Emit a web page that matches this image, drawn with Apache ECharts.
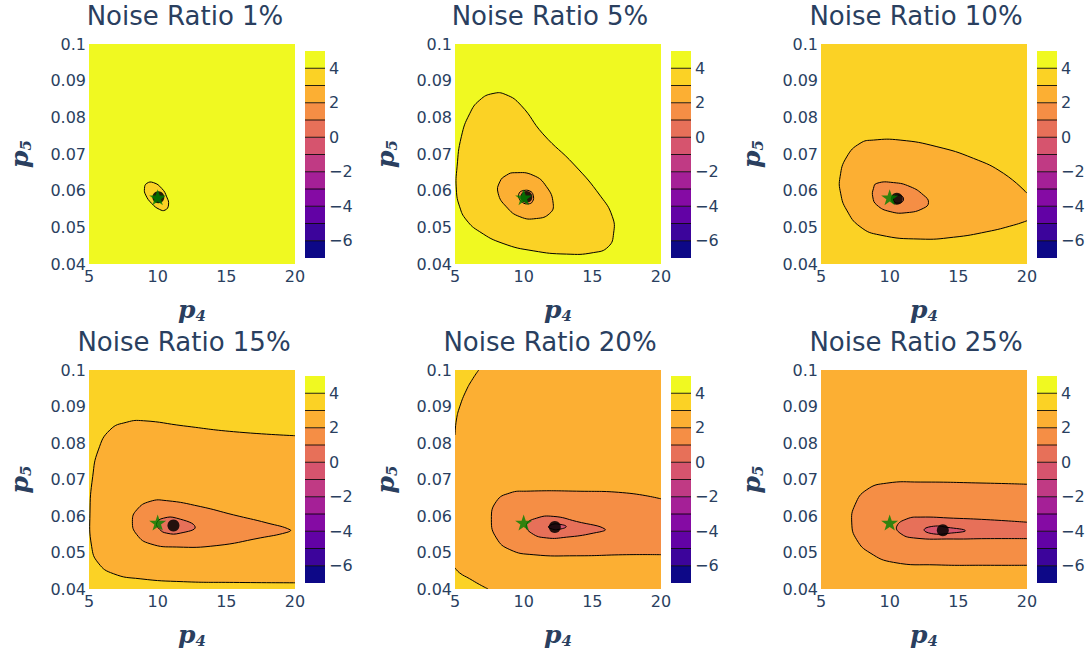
<!DOCTYPE html>
<html><head><meta charset="utf-8">
<script src="https://cdn.jsdelivr.net/npm/echarts@6/dist/echarts.min.js"></script>
<style>html,body{margin:0;padding:0;background:#fff}#chart{width:1086px;height:652px}</style>
</head><body><div id="chart"></div>
<script>
// ---------------- data ----------------
const panelTitles = ['Noise Ratio 1%', 'Noise Ratio 5%', 'Noise Ratio 10%', 'Noise Ratio 15%', 'Noise Ratio 20%', 'Noise Ratio 25%'];
const xTicks = [5, 10, 15, 20];
const yTicks = [0.04, 0.05, 0.06, 0.07, 0.08, 0.09, 0.1];
const colorbarLevels = [-7, -6, -5, -4, -3, -2, -1, 0, 1, 2, 3, 4, 5];
const colorbarTicks = [-6, -4, -2, 0, 2, 4];
const bandColors = ['#0d0887', '#3c049b', '#6202a5', '#850ba4', '#a52097', '#c03a84',
                    '#d6546e', '#e77059', '#f58e45', '#fcaf33', '#fbd225', '#f0f921'];
// upper contour level of the band that fills the rest of each panel
const backgroundTop = [5, 5, 4, 4, 3, 3];
const truePoint = [10, 0.0582];
const estimates = [[10.05, 0.0582], [10.2, 0.0583], [10.52, 0.0578], [11.15, 0.0574], [12.27, 0.0570], [13.87, 0.0561]];

const contours1 = [
  {level: 4, closed: true, pts: [[9.21,0.0620],[9.69,0.0622],[10.30,0.0606],[10.66,0.0583],[10.79,0.0561],[10.54,0.0547],[10.13,0.0549],[9.57,0.0565],[9.13,0.0588],[9.04,0.0606]]}
];
const contours2 = [
  {level: 4, closed: true, pts: [[5.10,0.0602],[5.15,0.0665],[5.46,0.0747],[6.07,0.0810],[6.80,0.0847],[7.77,0.0865],[8.70,0.0862],[9.80,0.0833],[11.40,0.0755],[13.70,0.0670],[15.60,0.0585],[16.45,0.0530],[16.55,0.0484],[16.16,0.0447],[15.07,0.0431],[13.12,0.0427],[10.69,0.0436],[8.50,0.0456],[6.80,0.0488],[5.83,0.0520],[5.34,0.0556]]},
  {level: 3, closed: true, pts: [[9.35,0.0649],[10.69,0.0642],[11.66,0.0611],[12.15,0.0565],[11.90,0.0538],[10.93,0.0524],[9.72,0.0529],[8.74,0.0556],[8.14,0.0593],[8.26,0.0624],[8.74,0.0642]]},
  {level: 2, closed: true, pts: [[9.67,0.0593],[9.96,0.0600],[10.45,0.0599],[10.69,0.0588],[10.64,0.0570],[10.32,0.0564],[9.91,0.0568],[9.67,0.0579]]}
];
const contours3 = [
  {level: 3, closed: false, pts: [[20,0.0593],[18.30,0.0647],[16.11,0.0688],[13.44,0.0720],[10.76,0.0738],[8.82,0.0738],[7.84,0.0729],[6.87,0.0692],[6.39,0.0638],[6.43,0.0593],[6.87,0.0547],[7.84,0.0502],[9.30,0.0479],[12.22,0.0468],[14.65,0.0473],[17.08,0.0488],[19.03,0.0506],[20,0.0518]]},
  {level: 2, closed: true, pts: [[9.06,0.0620],[10.28,0.0622],[11.49,0.0611],[12.46,0.0588],[12.83,0.0568],[12.46,0.0552],[11.25,0.0540],[10.03,0.0543],[9.06,0.0561],[8.77,0.0583],[8.82,0.0606]]},
  {level: 1, closed: true, pts: [[10.27,0.0577],[10.38,0.0585],[10.64,0.0588],[10.90,0.0585],[11.01,0.0577],[10.90,0.0569],[10.64,0.0566],[10.38,0.0569]]}
];
const contours4 = [
  {level: 3, closed: false, pts: [[20,0.0820],[15.53,0.0831],[11.88,0.0847],[8.96,0.0861],[7.75,0.0857],[6.53,0.0836],[5.68,0.0781],[5.27,0.0708],[5.07,0.0608],[5.19,0.0517],[5.68,0.0471],[6.77,0.0442],[8.72,0.0428],[11.88,0.0420],[15.53,0.0418],[20,0.0417]]},
  {level: 2, closed: true, pts: [[19.66,0.0562],[17.96,0.0581],[15.53,0.0603],[13.10,0.0626],[10.66,0.0642],[9.45,0.0640],[8.48,0.0617],[8.16,0.0585],[8.48,0.0549],[9.45,0.0524],[11.39,0.0515],[14.31,0.0519],[17.47,0.0540],[19.41,0.0555]]},
  {level: 1, closed: true, pts: [[9.93,0.0581],[10.42,0.0594],[11.39,0.0594],[12.73,0.0570],[11.64,0.0553],[10.66,0.0553],[10.13,0.0564]]}
];
const contours5 = [
  {level: 3, fillTop: 4, closed: false, pts: [[6.73,0.1],[6.31,0.0977],[5.83,0.0945],[5.34,0.0899],[5.10,0.0863],[5.0,0.0822]], corner: [[5,0.1]]},
  {level: 3, fillTop: 4, closed: false, pts: [[5.0,0.0458],[5.34,0.0444],[6.07,0.0428],[6.80,0.0412],[7.41,0.04]], corner: [[5,0.04]]},
  {level: 2, closed: false, pts: [[20,0.0647],[17.50,0.0663],[13.85,0.0668],[10.20,0.0668],[8.99,0.0663],[8.01,0.0640],[7.65,0.0590],[8.01,0.0540],[8.99,0.0508],[10.69,0.0494],[13.85,0.0491],[17.50,0.0494],[20,0.0494]]},
  {level: 1, closed: true, pts: [[10.20,0.0576],[10.93,0.0594],[12.15,0.0599],[13.85,0.0585],[15.92,0.0564],[15.07,0.0553],[13.12,0.0542],[11.66,0.0540],[10.57,0.0553]]},
  {level: 0, closed: true, pts: [[11.80,0.0570],[12.10,0.0577],[12.50,0.0578],[13.10,0.0571],[12.50,0.0563],[12.10,0.0564]]}
];
const contours6 = [
  {level: 2, closed: false, pts: [[20,0.0687],[17.08,0.0690],[12.22,0.0693],[9.79,0.0690],[8.33,0.0672],[7.48,0.0631],[7.24,0.0581],[7.60,0.0535],[8.57,0.0499],[10.28,0.0473],[13.44,0.0466],[17.08,0.0465],[20,0.0465]]},
  {level: 1, closed: false, pts: [[20,0.0583],[17.08,0.0590],[14.65,0.0594],[12.22,0.0597],[11.25,0.0592],[10.52,0.0572],[10.76,0.0553],[11.73,0.0540],[14.65,0.0537],[17.08,0.0538],[20,0.0538]]},
  {level: 0, closed: true, pts: [[12.51,0.0562],[13.20,0.0572],[14.17,0.0569],[15.51,0.0560],[14.41,0.0553],[13.20,0.0551]]}
];
const panelContours = [contours1, contours2, contours3, contours4, contours5, contours6];

// ---------------- layout / style ----------------
const TEXT = '#2a3f5f';
const plotLeft = [89, 455, 821], plotTop = [44, 370], plotW = 206, plotH = [220, 219];
const cbLeft = [305, 671, 1037], cbTop = [51, 376], cbW = 20, cbH = 207;
const titleX = [185, 550, 916], titleY = [16, 342];
const STAR = 'path://M50,0 L61.8,35.1 L98.1,35.1 L68.8,56.8 L79.4,91 L50,70 L20.6,91 L31.2,56.8 L1.9,35.1 L38.2,35.1 Z';
const SMOOTH = 0.5;

function bandColorFor(top) { return bandColors[colorbarLevels.indexOf(top) - 1]; }
const minus = v => (v < 0 ? '\u2212' + Math.abs(v) : String(v));

// Smooth bezier path through pixel points (same scheme as zrender's smoothing)
function smoothPath(P, loop, rect) {
  const n = P.length, cin = new Array(n), cout = new Array(n);
  const clamp = q => rect ? [Math.min(Math.max(q[0], rect[0]), rect[2]), Math.min(Math.max(q[1], rect[1]), rect[3])] : q;
  for (let i = 0; i < n; i++) {
    if (!loop && (i === 0 || i === n - 1)) { cin[i] = P[i]; cout[i] = P[i]; continue; }
    const prev = P[(i - 1 + n) % n], next = P[(i + 1) % n], p = P[i];
    const vx = (next[0] - prev[0]) * SMOOTH, vy = (next[1] - prev[1]) * SMOOTH;
    let d0 = Math.hypot(p[0] - prev[0], p[1] - prev[1]), d1 = Math.hypot(p[0] - next[0], p[1] - next[1]);
    const s = d0 + d1; if (s) { d0 /= s; d1 /= s; }
    cin[i] = clamp([p[0] - vx * d0, p[1] - vy * d0]);
    cout[i] = clamp([p[0] + vx * d1, p[1] + vy * d1]);
  }
  const f = q => q[0].toFixed(2) + ' ' + q[1].toFixed(2);
  let d = 'M' + f(P[0]);
  const segs = loop ? n : n - 1;
  for (let i = 0; i < segs; i++) {
    const j = (i + 1) % n;
    d += ' C' + f(cout[i]) + ' ' + f(cin[j]) + ' ' + f(P[j]);
  }
  return d;
}

function contourRenderer(list) {
  return function (params, api) {
    const c = list[api.value(2)];
    const cs = params.coordSys;
    const rect = [cs.x, cs.y, cs.x + cs.width, cs.y + cs.height];
    const pts = c.pts.map(p => api.coord(p));
    const color = bandColorFor(c.fillTop !== undefined ? c.fillTop : c.level);
    if (c.closed) {
      return {type: 'path', shape: {pathData: smoothPath(pts, true, null) + ' Z'},
              style: {fill: color, stroke: '#000', lineWidth: 1}};
    }
    const curve = smoothPath(pts, false, rect);
    let fillD = curve;
    (c.corner || []).forEach(p => { const q = api.coord(p); fillD += ' L' + q[0].toFixed(2) + ' ' + q[1].toFixed(2); });
    fillD += ' Z';
    return {type: 'group', children: [
      {type: 'path', shape: {pathData: fillD}, style: {fill: color, stroke: null}},
      {type: 'path', shape: {pathData: curve}, style: {fill: null, stroke: '#000', lineWidth: 1}}
    ]};
  };
}

function colorbarRender(params, api) {
  const lo = api.value(1), hi = api.value(2), k = api.value(3);
  const p0 = api.coord([0, lo]), p1 = api.coord([1, hi]);
  const children = [{
    type: 'rect',
    shape: {x: p0[0], y: p1[1], width: p1[0] - p0[0], height: p0[1] - p1[1]},
    style: {fill: bandColors[k]}
  }];
  if (k > 0) {
    children.push({type: 'line', shape: {x1: p0[0], y1: p0[1], x2: p1[0], y2: p0[1]}, style: {stroke: '#000', lineWidth: 1, opacity: 0.85}});
  }
  return {type: 'group', children};
}

const grid = [], xAxis = [], yAxis = [], series = [], graphic = [];
const axisFont = {fontFamily: 'DejaVu Sans', fontSize: 16, color: TEXT};
const nameRich = () => ({
  fontFamily: 'DejaVu Serif', fontStyle: 'italic', fontWeight: 'bold', fontSize: 25, color: TEXT,
  rich: {
    p: {fontFamily: 'DejaVu Serif', fontStyle: 'italic', fontWeight: 'bold', fontSize: 25, color: TEXT, lineHeight: 28},
    s: {fontFamily: 'DejaVu Serif', fontWeight: 'bold', fontSize: 15, color: TEXT, lineHeight: 28, verticalAlign: 'bottom'}
  }
});
const bands = colorbarLevels.slice(0, -1).map((lo, k) => [0, lo, colorbarLevels[k + 1], k]);

for (let i = 0; i < 6; i++) {
  const r = Math.floor(i / 3), c = i % 3;
  const gp = 2 * i, gc = 2 * i + 1;
  grid.push({left: plotLeft[c], top: plotTop[r], width: plotW, height: plotH[r], show: true,
             backgroundColor: bandColorFor(backgroundTop[i]), borderWidth: 0, outerBoundsMode: 'none'});
  grid.push({left: cbLeft[c], top: cbTop[r], width: cbW, height: cbH, outerBoundsMode: 'none'});

  xAxis.push({
    gridIndex: gp, type: 'value', min: xTicks[0], max: xTicks[xTicks.length - 1], interval: xTicks[1] - xTicks[0],
    axisLine: {show: false}, axisTick: {show: false}, splitLine: {show: false},
    axisLabel: Object.assign({margin: 4}, axisFont),
    name: '{p|p}{s|4}', nameLocation: 'middle', nameGap: 31, nameTextStyle: nameRich()
  });
  yAxis.push({
    gridIndex: gp, type: 'value', min: yTicks[0], max: yTicks[yTicks.length - 1], interval: 0.01,
    axisLine: {show: false}, axisTick: {show: false}, splitLine: {show: false},
    axisLabel: Object.assign({margin: 3, formatter: v => String(parseFloat(v.toFixed(2)))}, axisFont),
    name: '{p|p}{s|5}', nameLocation: 'middle', nameGap: 56, nameTextStyle: nameRich()
  });
  xAxis.push({gridIndex: gc, type: 'value', min: 0, max: 1, show: false});
  yAxis.push({
    gridIndex: gc, type: 'value', min: colorbarLevels[0], max: colorbarLevels[colorbarLevels.length - 1],
    position: 'right', axisLine: {show: false}, axisTick: {show: false}, splitLine: {show: false},
    axisLabel: Object.assign({margin: 4, customValues: colorbarTicks, formatter: minus}, axisFont)
  });

  const list = panelContours[i];
  series.push({
    type: 'custom', xAxisIndex: gp, yAxisIndex: gp, clip: true, silent: true, z: 2,
    renderItem: contourRenderer(list),
    encode: {x: 0, y: 1},
    data: list.map((ct, j) => [ct.pts[0][0], ct.pts[0][1], j])
  });
  series.push({
    type: 'custom', xAxisIndex: gc, yAxisIndex: gc, silent: true, z: 2,
    renderItem: colorbarRender, encode: {x: 0, y: 1}, data: bands
  });
  series.push({
    type: 'scatter', xAxisIndex: gp, yAxisIndex: gp, silent: true, z: 3,
    symbol: 'circle', symbolSize: 12, itemStyle: {color: '#000', opacity: 0.85},
    data: [estimates[i]]
  });
  series.push({
    type: 'scatter', xAxisIndex: gp, yAxisIndex: gp, silent: true, z: 4,
    symbol: STAR, symbolSize: [17, 16], itemStyle: {color: '#008000', opacity: 0.8},
    data: [truePoint]
  });
  graphic.push({
    type: 'text', x: titleX[c] - (r === 1 && c === 0 ? 1 : 0), y: titleY[r],
    style: {text: panelTitles[i], fill: TEXT, fontFamily: 'DejaVu Sans', fontSize: 26,
            align: 'center', verticalAlign: 'middle'}
  });
}

const chart = echarts.init(document.getElementById('chart'), null, {renderer: 'svg', width: 1086, height: 652});
chart.setOption({
  animation: false,
  backgroundColor: '#fff',
  grid, xAxis, yAxis, series, graphic
});
</script>
</body></html>
